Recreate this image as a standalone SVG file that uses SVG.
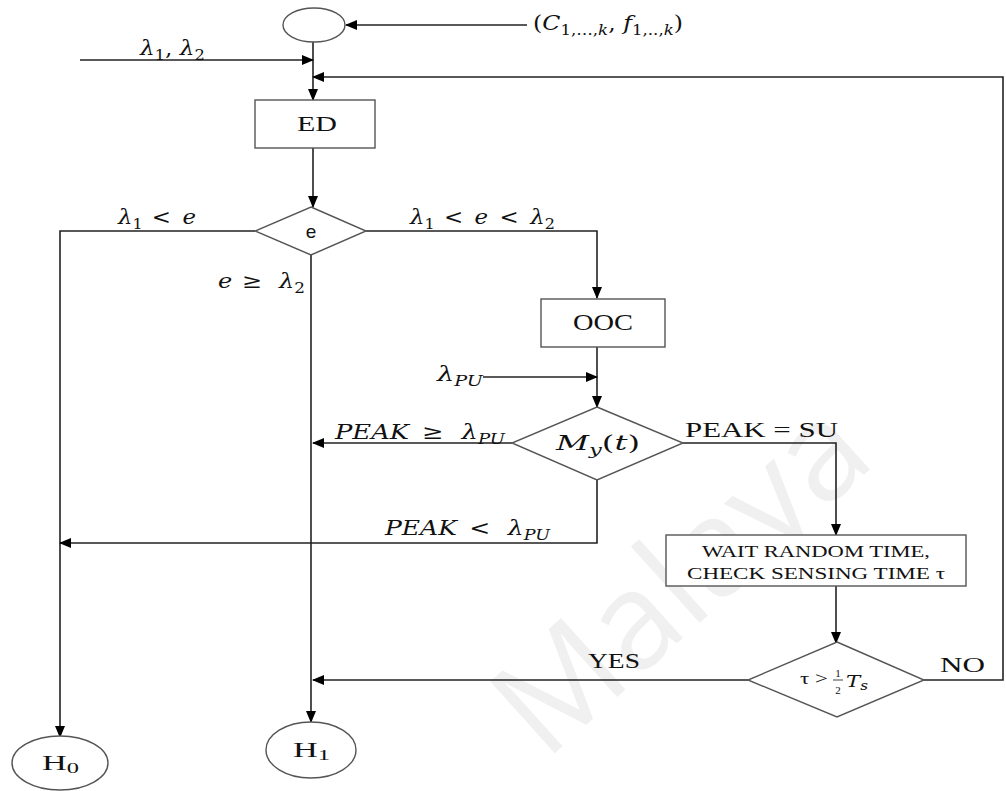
<svg xmlns="http://www.w3.org/2000/svg" width="1006" height="791" viewBox="0 0 1006 791">
<defs>
<marker id="arr" markerWidth="12" markerHeight="10" refX="11" refY="5" orient="auto" markerUnits="userSpaceOnUse">
<path d="M0,0 L12,5 L0,10 Z" fill="#000"/>
</marker>
<style>
.shape{fill:#fff;stroke:#555;stroke-width:1.4}
.arrow{fill:none;stroke:#222;stroke-width:1.6;marker-end:url(#arr)}
.serif{font-family:"Liberation Serif","Times New Roman",serif;fill:#111}
.math{font-family:"DejaVu Serif","Liberation Serif",serif;fill:#111;font-size:20px}
.it{font-style:italic}
.sub{font-size:14px}
.wm{font-family:"Open Sans","Liberation Sans",sans-serif;fill:#f0f0f0;font-size:135px}
</style>
</defs>
<rect width="1006" height="791" fill="#fff"/>
<text class="wm" x="0" y="0" transform="translate(545,762) rotate(-42)">Malaya</text>

<g id="connectors">
<path class="arrow" d="M527,25 H346"/>
<path class="arrow" d="M313,42 V100"/>
<path class="arrow" d="M80,60 H313"/>
<path class="arrow" d="M924,680 H1003 V77 H313"/>
<path class="arrow" d="M313,148 V207"/>
<path class="arrow" d="M255,231 H60 V737"/>
<path class="arrow" d="M366,231 H597 V298"/>
<path class="arrow" d="M311,255 V722"/>
<path class="arrow" d="M597,347 V407"/>
<path class="arrow" d="M483,377 H597"/>
<path class="arrow" d="M512,443 H313"/>
<path class="arrow" d="M683,443 H836 V535"/>
<path class="arrow" d="M597,480 V543 H60"/>
<path class="arrow" d="M836,586 V643"/>
<path class="arrow" d="M748,680 H313"/>
</g>

<g id="labels">
<text class="math" x="140" y="55" textLength="65" lengthAdjust="spacingAndGlyphs"><tspan class="it">λ</tspan><tspan class="sub" dy="5">1</tspan><tspan dy="-5">, </tspan><tspan class="it">λ</tspan><tspan class="sub" dy="5">2</tspan></text>
<text class="math" x="533" y="30" textLength="150" lengthAdjust="spacingAndGlyphs"><tspan>(</tspan><tspan class="it">C</tspan><tspan class="sub" dy="5">1,…,</tspan><tspan class="sub it">k</tspan><tspan dy="-5">, </tspan><tspan class="it">f</tspan><tspan class="sub" dy="5">1,..,</tspan><tspan class="sub it">k</tspan><tspan dy="-5">)</tspan></text>
<text class="math" x="118" y="224" textLength="78" lengthAdjust="spacingAndGlyphs"><tspan class="it">λ</tspan><tspan class="sub" dy="5">1</tspan><tspan dy="-5" dx="8">&lt;</tspan><tspan class="it" dx="10">e</tspan></text>
<text class="math" x="410" y="224" textLength="145" lengthAdjust="spacingAndGlyphs"><tspan class="it">λ</tspan><tspan class="sub" dy="5">1</tspan><tspan dy="-5" dx="8">&lt;</tspan><tspan class="it" dx="10">e</tspan><tspan dx="10">&lt;</tspan><tspan class="it" dx="10">λ</tspan><tspan class="sub" dy="5">2</tspan></text>
<text class="math" x="218" y="288" textLength="87" lengthAdjust="spacingAndGlyphs"><tspan class="it">e</tspan><tspan dx="8">≥</tspan><tspan class="it" dx="14">λ</tspan><tspan class="sub" dy="5">2</tspan></text>
<text class="math" x="437" y="381" textLength="46" lengthAdjust="spacingAndGlyphs"><tspan class="it">λ</tspan><tspan class="sub it" dy="5">PU</tspan></text>
<text class="math" x="335" y="439" textLength="170" lengthAdjust="spacingAndGlyphs"><tspan class="it">PEAK</tspan><tspan dx="10">≥</tspan><tspan class="it" dx="14">λ</tspan><tspan class="sub it" dy="5">PU</tspan></text>
<text class="serif" x="685" y="437" font-family="Liberation Serif, serif" font-size="21" textLength="153" lengthAdjust="spacingAndGlyphs">PEAK = SU</text>
<text class="math" x="385" y="535" textLength="165" lengthAdjust="spacingAndGlyphs"><tspan class="it">PEAK</tspan><tspan dx="10">&lt;</tspan><tspan class="it" dx="14">λ</tspan><tspan class="sub it" dy="5">PU</tspan></text>
<text class="serif" x="588" y="668" font-family="Liberation Serif, serif" font-size="21" textLength="52" lengthAdjust="spacingAndGlyphs">YES</text>
<text class="serif" x="940" y="672" font-family="Liberation Serif, serif" font-size="21" textLength="45" lengthAdjust="spacingAndGlyphs">NO</text>
</g>

<g id="start">
<ellipse class="shape" cx="314" cy="25" rx="31" ry="17"/>
</g>

<g id="ED">
<rect class="shape" x="255" y="100" width="120" height="48"/>
<text class="serif" x="297" y="131" font-family="Liberation Serif, serif" font-size="22" textLength="40" lengthAdjust="spacingAndGlyphs">ED</text>
</g>

<g id="decision-e">
<polygon class="shape" points="311,207 366,231 311,255 255,231"/>
<text x="311" y="238" font-family="Liberation Sans, Arial, sans-serif" font-size="19" fill="#111" text-anchor="middle">e</text>
</g>

<g id="OOC">
<rect class="shape" x="541" y="299" width="124" height="48"/>
<text class="serif" x="573" y="330" font-family="Liberation Serif, serif" font-size="23" textLength="60" lengthAdjust="spacingAndGlyphs">OOC</text>
</g>

<g id="decision-My">
<polygon class="shape" points="597,407 683,443 597,480 512,443"/>
<text class="math" x="556" y="450" textLength="84" lengthAdjust="spacingAndGlyphs"><tspan class="it">M</tspan><tspan class="sub it" dy="5">y</tspan><tspan dy="-5">(</tspan><tspan class="it">t</tspan><tspan>)</tspan></text>
</g>

<g id="wait">
<rect class="shape" x="666" y="535" width="300" height="51"/>
<text class="serif" x="702" y="557" font-family="Liberation Serif, serif" font-size="16.5" textLength="228" lengthAdjust="spacingAndGlyphs">WAIT RANDOM TIME,</text>
<text class="serif" x="687" y="579" font-family="Liberation Serif, serif" font-size="16.5" textLength="258" lengthAdjust="spacingAndGlyphs">CHECK SENSING TIME τ</text>
</g>

<g id="decision-tau">
<polygon class="shape" points="837,642 924,680 837,717 748,680"/>
<text class="serif" x="800" y="684" font-family="Liberation Serif, serif" font-size="17" textLength="28" lengthAdjust="spacingAndGlyphs">τ &gt;</text>
<text class="serif" x="838" y="677" font-family="Liberation Serif, serif" font-size="11" text-anchor="middle">1</text>
<line x1="833" y1="680" x2="843" y2="680" stroke="#111" stroke-width="0.8"/>
<text class="serif" x="838" y="694" font-family="Liberation Serif, serif" font-size="11" text-anchor="middle">2</text>
<text class="math" x="846" y="687" font-size="17" textLength="22" lengthAdjust="spacingAndGlyphs"><tspan class="it" font-size="17">T</tspan><tspan class="it" font-size="12" dy="3">s</tspan></text>
</g>

<g id="H0">
<ellipse class="shape" cx="60" cy="763" rx="48" ry="27"/>
<text class="serif" x="42" y="770" font-family="Liberation Serif, serif" font-size="21" textLength="37" lengthAdjust="spacingAndGlyphs">H<tspan font-size="15" dy="3">0</tspan></text>
</g>

<g id="H1">
<ellipse class="shape" cx="311" cy="750" rx="45" ry="28"/>
<text class="serif" x="293" y="757" font-family="Liberation Serif, serif" font-size="21" textLength="37" lengthAdjust="spacingAndGlyphs">H<tspan font-size="15" dy="3">1</tspan></text>
</g>
</svg>
